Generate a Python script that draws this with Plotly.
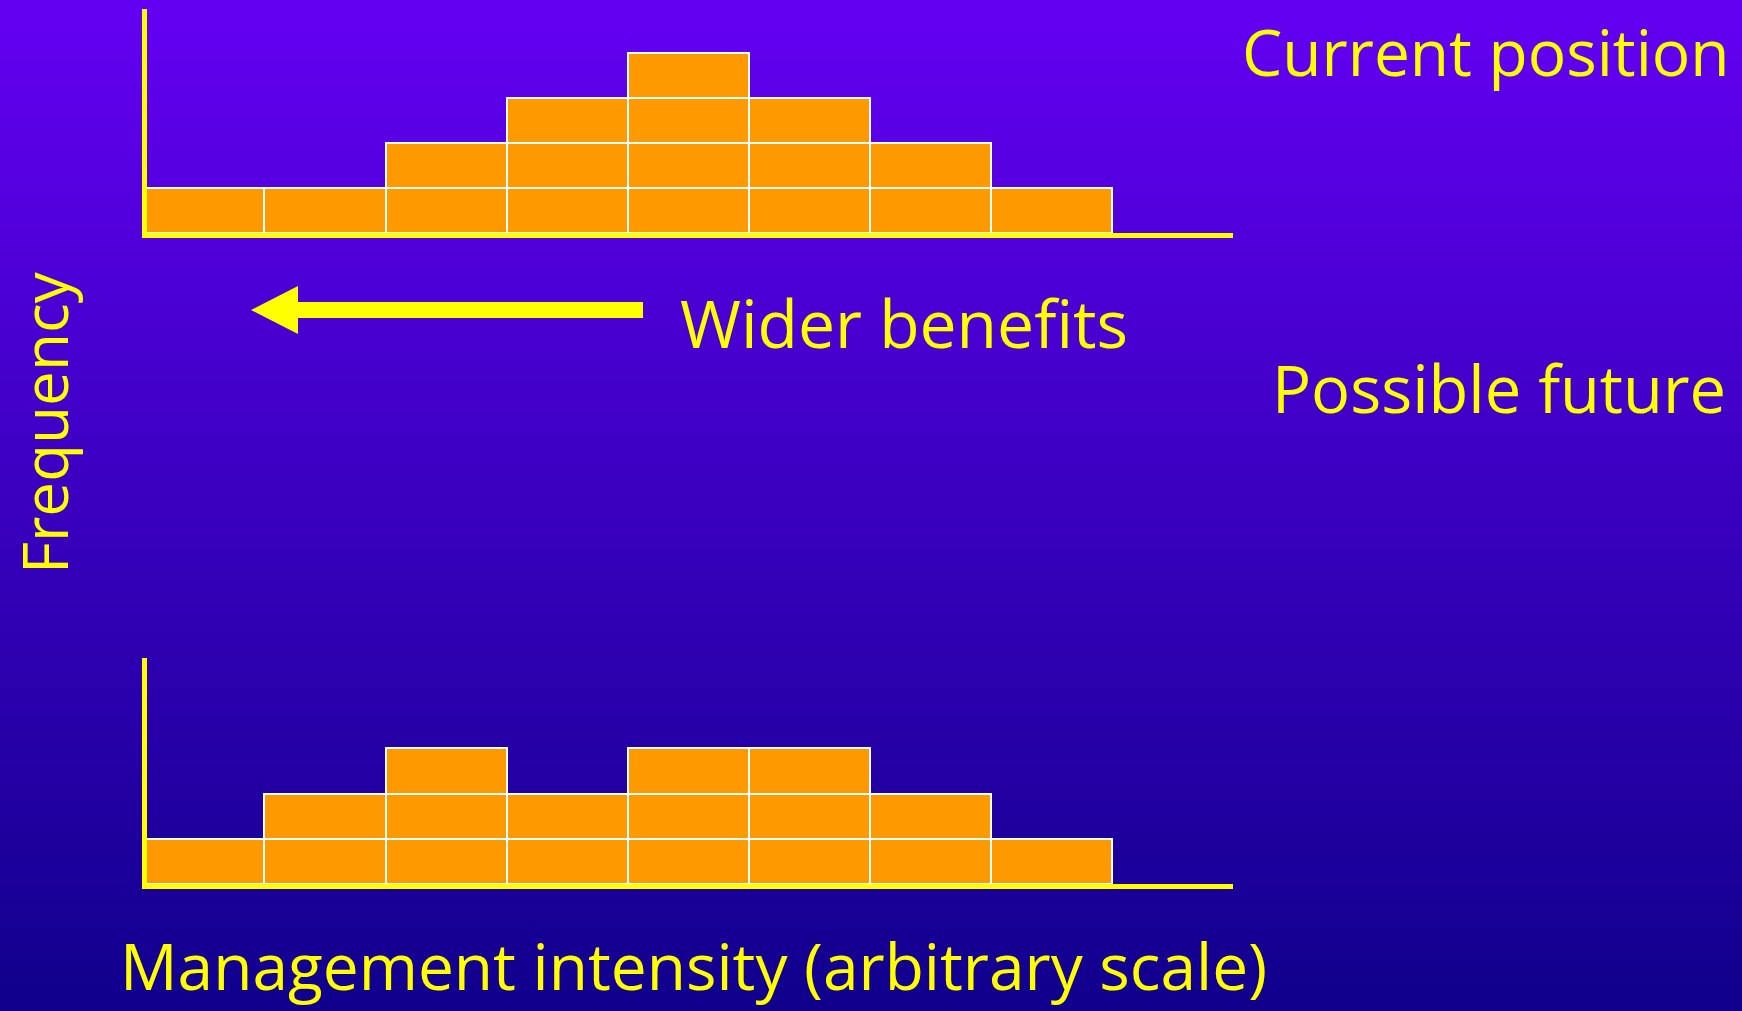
import plotly.graph_objects as go

W, H = 1742, 1011

# Data
bins = [1, 2, 3, 4, 5, 6, 7, 8]
current_counts = [1, 1, 2, 3, 4, 3, 2, 1]
future_counts = [1, 2, 3, 2, 3, 3, 2, 1]

title_current = "Current position"
title_future = "Possible future"
arrow_label = "Wider benefits"
y_label = "Frequency"
x_label = "Management intensity (arbitrary scale)"

YELLOW = "#FFFF00"
ORANGE = "#FF9900"
FONT = "Open Sans"

def px(x):
    return x / W

def py(y):
    return 1 - y / H

fig = go.Figure()

def add_blocks(counts, xa, ya):
    top = max(counts)
    for level in range(top):
        ys = [1 if c > level else None for c in counts]
        fig.add_trace(go.Bar(
            x=bins, y=ys, xaxis=xa, yaxis=ya,
            marker=dict(color=ORANGE, line=dict(color="white", width=2)),
            showlegend=False, hoverinfo="skip",
        ))

add_blocks(current_counts, "x", "y")
add_blocks(future_counts, "x2", "y2")

axis_common = dict(showline=True, linecolor=YELLOW, linewidth=5, showgrid=False,
                   zeroline=False, showticklabels=False, ticks="", fixedrange=True)

x_dom = [px(147), px(1233)]
fig.update_layout(
    xaxis=dict(domain=x_dom, range=[0.53, 9.5], anchor="y", **axis_common),
    yaxis=dict(domain=[py(233), py(9)], range=[0, 4.97], anchor="x", **axis_common),
    xaxis2=dict(domain=x_dom, range=[0.53, 9.5], anchor="y2", **axis_common),
    yaxis2=dict(domain=[py(884), py(658)], range=[0, 5.0], anchor="x2", **axis_common),
    barmode="stack", bargap=0,
    width=W, height=H,
    margin=dict(l=0, r=0, t=0, b=0),
    paper_bgcolor="#3300B0", plot_bgcolor="rgba(0,0,0,0)",
    showlegend=False,
)

# Gradient background via strips
shapes = []
n = 120
top_c = (100, 0, 242)
bot_c = (16, 0, 140)
for i in range(n):
    t = i / (n - 1)
    c = tuple(int(round(top_c[k] + (bot_c[k] - top_c[k]) * t)) for k in range(3))
    shapes.append(dict(type="rect", xref="paper", yref="paper",
                       x0=0, x1=1, y0=1 - (i + 1) / n - 0.001, y1=1 - i / n,
                       fillcolor="rgb(%d,%d,%d)" % c, line=dict(width=0), layer="below"))

# Arrow (decoration)
shapes.append(dict(type="rect", xref="paper", yref="paper",
                   x0=px(296), x1=px(643), y0=py(318), y1=py(302),
                   fillcolor=YELLOW, line=dict(width=0)))
shapes.append(dict(type="path", xref="paper", yref="paper",
                   path="M %f,%f L %f,%f L %f,%f Z" % (px(251), py(310), px(298), py(286), px(298), py(334)),
                   fillcolor=YELLOW, line=dict(width=0)))
fig.update_layout(shapes=shapes)

def f(size):
    return dict(family=FONT, size=size, color=YELLOW)

ann = []
ann.append(dict(text=title_current, xref="paper", yref="paper", x=px(1732), y=py(52),
                xanchor="right", yanchor="middle", showarrow=False, font=f(64)))
ann.append(dict(text=title_future, xref="paper", yref="paper", x=px(1728), y=py(388),
                xanchor="right", yanchor="middle", showarrow=False, font=f(65)))
ann.append(dict(text=arrow_label, xref="paper", yref="paper", x=px(678), y=py(322),
                xanchor="left", yanchor="middle", showarrow=False, font=f(66)))
ann.append(dict(text=y_label, xref="paper", yref="paper", x=px(44), y=py(423),
                xanchor="center", yanchor="middle", textangle=-90, showarrow=False, font=f(62)))
ann.append(dict(text=x_label, xref="paper", yref="paper", x=px(118), y=py(965),
                xanchor="left", yanchor="middle", showarrow=False, font=f(64)))
fig.update_layout(annotations=ann)

fig.write_html("out.html", config={"displayModeBar": False},
               post_script="document.body.style.margin='0';document.body.style.overflow='hidden';")
